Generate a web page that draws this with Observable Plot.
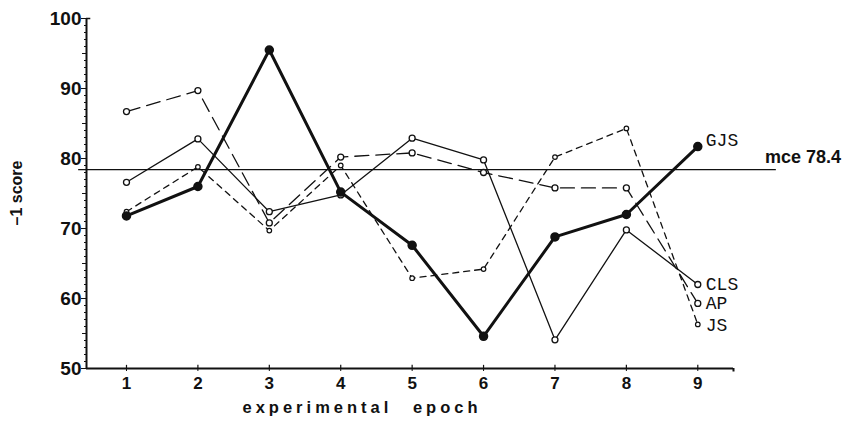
<!DOCTYPE html>
<html>
<head>
<meta charset="utf-8">
<script src="https://cdn.jsdelivr.net/npm/d3@7"></script>
<script src="https://cdn.jsdelivr.net/npm/@observablehq/plot@0.6"></script>
<style>
  html, body { margin: 0; padding: 0; background: #fff; }
  #chart { width: 843px; height: 424px; }
</style>
</head>
<body>
<div id="chart"></div>
<script>
// ---- data ----
const epochs = [1, 2, 3, 4, 5, 6, 7, 8, 9];
const gjs = [71.8, 76.0, 95.5, 75.2, 67.6, 54.6, 68.8, 72.0, 81.7];
const cls = [76.6, 82.8, 72.4, 74.8, 82.9, 79.8, 54.1, 69.8, 62.0];
const ap  = [86.7, 89.7, 70.8, 80.2, 80.8, 78.0, 75.8, 75.8, 59.3];
const js  = [72.4, 78.8, 69.7, 79.0, 62.9, 64.2, 80.2, 84.3, 56.3];
const seriesNames = ["GJS", "CLS", "AP", "JS"];
const mce = 78.4;
const mceLabel = "mce 78.4";
const yTicks = [50, 60, 70, 80, 90, 100];
const yMidTicks = [55, 65, 75, 85, 95];
const yMinorTicks = d3.range(50, 101, 1);
const xTitle = "experimental epoch";
const yTitle = "\u20131 score";

// ---- build tables ----
const mk = (vals, name) => epochs.map((e, i) => ({epoch: e, value: vals[i], series: name}));
const tGJS = mk(gjs, seriesNames[0]);
const tCLS = mk(cls, seriesNames[1]);
const tAP  = mk(ap,  seriesNames[2]);
const tJS  = mk(js,  seriesNames[3]);

const xDomain = [0.44, 9.5];
const yDomain = [50, 100];
const sans = "Liberation Sans, Arial, Helvetica, sans-serif";
const mono = "Liberation Mono, Courier New, monospace";

const endLabel = (t, dy) => Plot.text([t[t.length - 1]], {
  x: "epoch", y: "value", text: "series", textAnchor: "start",
  dx: 8, dy, fontFamily: mono, fontSize: 18, fill: "#111"
});

const plot = Plot.plot({
  width: 843,
  height: 424,
  marginLeft: 86,
  marginRight: 110,
  marginTop: 18,
  marginBottom: 56,
  style: {fontFamily: sans, background: "#fff", color: "#111"},
  x: {domain: xDomain, axis: null},
  y: {domain: yDomain, axis: null},
  marks: [
    // axes lines
    Plot.ruleX([xDomain[0]], {stroke: "#111", strokeWidth: 2}),
    Plot.ruleY([yDomain[0]], {stroke: "#111", strokeWidth: 2}),
    Plot.ruleY([yDomain[1]], {x1: xDomain[0], x2: xDomain[0] + 0.06, stroke: "#111", strokeWidth: 1.5}),
    Plot.ruleX([xDomain[1]], {y1: yDomain[0] - 0.5, y2: yDomain[0], stroke: "#111", strokeWidth: 2}),
    // y ticks
    Plot.axisY({ticks: yMinorTicks, tickSize: 2, text: null, stroke: "#111", label: null}),
    Plot.axisY({ticks: yMidTicks, tickSize: 4, text: null, stroke: "#111", label: null}),
    Plot.axisY({ticks: yTicks, tickSize: 5, tickPadding: 0, fontSize: 19, fontWeight: "bold",
                stroke: "#111", fill: "#111", label: null}),
    // x ticks
    Plot.axisX({ticks: epochs, tickSize: 3, tickPadding: 5, fontSize: 17, fontWeight: "bold",
                stroke: "#111", fill: "#111", label: null}),
    Plot.ruleX(epochs, {x: d => d, y1: 50, y2: 50.45, stroke: "#111", strokeWidth: 1.2}),
    // mean line
    Plot.ruleY([mce], {x1: 0.33, x2: 10.1, stroke: "#111", strokeWidth: 1.3}),
    Plot.text([mce], {x: 9.94, y: d => d, text: () => mceLabel, textAnchor: "start", dy: -12,
                      fontSize: 18, fontWeight: "bold", fill: "#111"}),
    // series lines
    Plot.line(tJS,  {x: "epoch", y: "value", stroke: "#111", strokeWidth: 1.3, strokeDasharray: "6,5"}),
    Plot.line(tAP,  {x: "epoch", y: "value", stroke: "#111", strokeWidth: 1.3, strokeDasharray: "14,7"}),
    Plot.line(tCLS, {x: "epoch", y: "value", stroke: "#111", strokeWidth: 1.3}),
    Plot.line(tGJS, {x: "epoch", y: "value", stroke: "#111", strokeWidth: 3}),
    // markers
    Plot.dot(tJS,  {x: "epoch", y: "value", r: 2.3, fill: "#fff", stroke: "#111", strokeWidth: 1.2}),
    Plot.dot(tAP,  {x: "epoch", y: "value", r: 3, fill: "#fff", stroke: "#111", strokeWidth: 1.3}),
    Plot.dot(tCLS, {x: "epoch", y: "value", r: 3, fill: "#fff", stroke: "#111", strokeWidth: 1.3}),
    Plot.dot(tGJS, {x: "epoch", y: "value", r: 4, fill: "#111", stroke: "#111"}),
    // end labels
    endLabel(tGJS, -6),
    endLabel(tCLS, 0),
    endLabel(tAP, 0),
    endLabel(tJS, 1),
    // axis titles
    Plot.text([yTitle], {frameAnchor: "left", text: d => d, rotate: -90, dx: -70, dy: 32,
                         fontSize: 16, fontWeight: "bold", fill: "#111"}),
    Plot.text([xTitle], {frameAnchor: "bottom", text: d => d, dx: -48, dy: 44.7,
                         fontSize: 16.5, fontWeight: "bold", fill: "#111"})
  ]
});

d3.select(plot).selectAll("text")
  .filter(function () { return this.textContent === xTitle; })
  .attr("letter-spacing", "4px").attr("word-spacing", "12px");

document.getElementById("chart").appendChild(plot);
</script>
</body>
</html>
